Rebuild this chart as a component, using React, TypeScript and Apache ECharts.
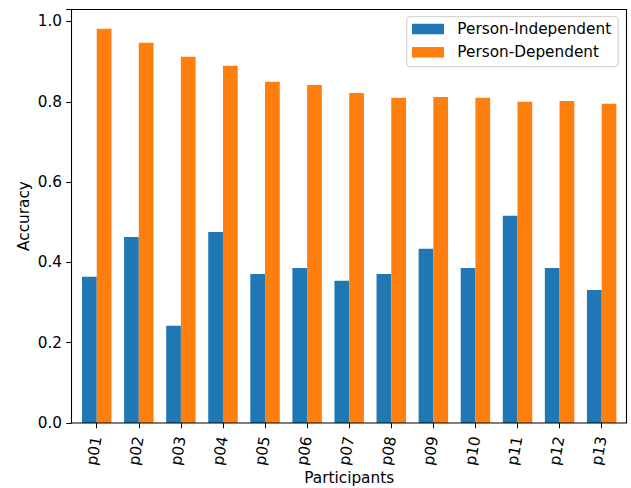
import React, { useEffect, useRef } from "react";
import * as echarts from "echarts";

// Per-participant accuracy for the two training setups
const participants = ["p01", "p02", "p03", "p04", "p05", "p06", "p07", "p08", "p09", "p10", "p11", "p12", "p13"];
const personIndependent = [0.364, 0.463, 0.242, 0.476, 0.371, 0.386, 0.354, 0.371, 0.434, 0.386, 0.516, 0.386, 0.331];
const personDependent = [0.982, 0.947, 0.912, 0.89, 0.85, 0.842, 0.822, 0.81, 0.812, 0.81, 0.8, 0.802, 0.795];
const yTicks = [0, 0.2, 0.4, 0.6, 0.8, 1.0];

const FONT = "DejaVu Sans";
const FS = 15.3;
const BLUE = "#1f77b4";
const ORANGE = "#ff7f0e";

export default function App() {
  const ref = useRef<HTMLDivElement>(null);

  useEffect(() => {
    if (!ref.current) return;
    const chart = echarts.init(ref.current, undefined, { renderer: "svg" });

    const yMax = Math.max(...personDependent) * 1.05;

    chart.setOption({
      animation: false,
      backgroundColor: "#ffffff",
      textStyle: { fontFamily: FONT },
      grid: { left: 75.7, width: 547, top: 9, bottom: 65, containLabel: false, outerBoundsMode: "none" },
      legend: {
        orient: "vertical",
        left: 406.7,
        top: 16.7,
        padding: [4.65, 7, 6.75, 5.3],
        itemWidth: 32,
        itemHeight: 10.5,
        itemGap: 8,
        icon: "rect",
        borderColor: "#cccccc",
        borderWidth: 1,
        borderRadius: 3,
        backgroundColor: "rgba(255,255,255,0.8)",
        textStyle: {
          fontFamily: FONT,
          fontSize: FS,
          lineHeight: FS,
          color: "#000000",
          padding: [0, 0, 0, 8.3],
        },
        data: ["Person-Independent", "Person-Dependent"],
      },
      xAxis: {
        type: "category",
        data: participants,
        name: "Participants",
        nameLocation: "middle",
        nameGap: 47,
        nameMoveOverlap: false,
        nameTextStyle: { fontFamily: FONT, fontSize: FS, color: "#000000" },
        axisLine: { show: false },
        axisTick: { show: true, alignWithLabel: true, length: 5.3, lineStyle: { color: "#000000", width: 1 } },
        axisLabel: {
          rotate: 80,
          margin: 13.5,
          fontFamily: FONT,
          fontSize: FS,
          color: "#000000",
          interval: 0,
          padding: [5, 0, 0, 0],
        },
        splitLine: { show: false },
      },
      yAxis: {
        type: "value",
        min: 0,
        max: yMax,
        interval: 0.2,
        offset: 4.2,
        name: "Accuracy",
        nameLocation: "middle",
        nameGap: 40.5,
        nameMoveOverlap: false,
        nameTextStyle: { fontFamily: FONT, fontSize: FS, color: "#000000" },
        axisLine: { show: false },
        axisTick: { show: true, length: 5.3, lineStyle: { color: "#000000", width: 1 } },
        axisLabel: {
          margin: 9.5,
          fontFamily: FONT,
          fontSize: FS,
          color: "#000000",
          formatter: (v: number) => (yTicks.some((t) => Math.abs(t - v) < 1e-9) ? v.toFixed(1) : ""),
        },
        splitLine: { show: false },
      },
      series: [
        {
          name: "Person-Independent",
          type: "bar",
          data: personIndependent,
          barWidth: "35%",
          barGap: "0%",
          itemStyle: { color: BLUE },
        },
        {
          name: "Person-Dependent",
          type: "bar",
          data: personDependent,
          barWidth: "35%",
          barGap: "0%",
          itemStyle: { color: ORANGE },
        },
      ],
      graphic: [
        {
          type: "rect",
          z: 100,
          silent: true,
          shape: { x: 71.5, y: 9.5, width: 555, height: 413.5 },
          style: { fill: "none", stroke: "#000000", lineWidth: 1.1 },
        },
      ],
    });

    return () => chart.dispose();
  }, []);

  return (
    <div
      ref={ref}
      style={{ position: "fixed", left: 0, top: 0, width: 631, height: 488 }}
    />
  );
}
